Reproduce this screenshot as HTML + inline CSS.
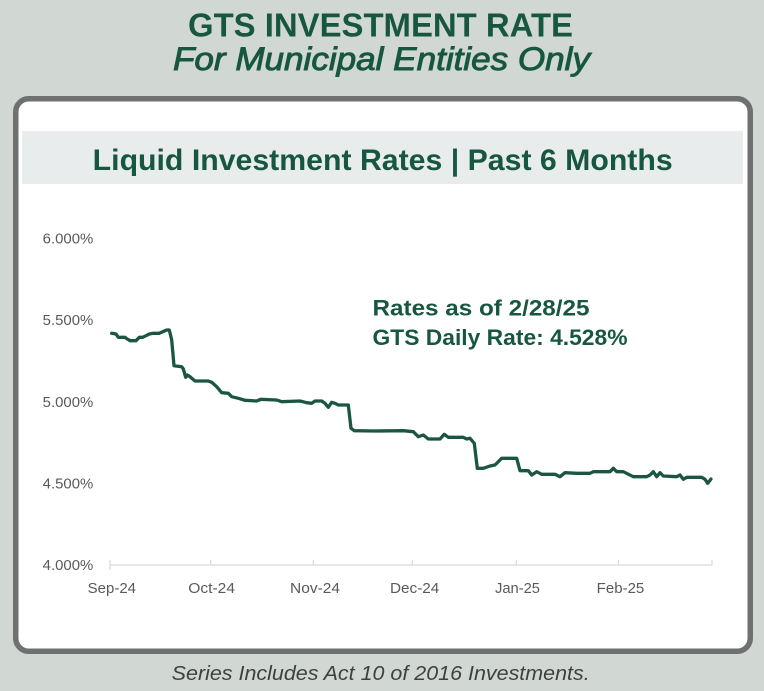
<!DOCTYPE html>
<html>
<head>
<meta charset="utf-8">
<style>
  html, body { margin:0; padding:0; background:#d1d7d3; }
  body { width:764px; height:691px; overflow:hidden; }
  svg { display:block; }
</style>
</head>
<body>
<svg width="764" height="691" viewBox="0 0 764 691" xmlns="http://www.w3.org/2000/svg">
  <rect x="0" y="0" width="764" height="691" fill="#d1d7d3"/>

  <!-- Titles -->
  <text x="188" y="36.7" font-family="Liberation Sans, sans-serif" font-weight="bold" font-size="33" fill="#17573f" textLength="385" lengthAdjust="spacingAndGlyphs">GTS INVESTMENT RATE</text>
  <text x="173" y="70" font-family="Liberation Sans, sans-serif" font-style="italic" font-size="32" fill="#17573f" stroke="#17573f" stroke-width="0.9" textLength="417" lengthAdjust="spacingAndGlyphs">For Municipal Entities Only</text>

  <!-- Box -->
  <rect x="15.75" y="98.75" width="734.5" height="552.5" rx="13" ry="13" fill="#ffffff" stroke="#6f7170" stroke-width="5.5"/>

  <!-- Header band -->
  <rect x="22" y="131" width="721" height="53" fill="#e9eced"/>
  <text x="92.7" y="170" font-family="Liberation Sans, sans-serif" font-weight="bold" font-size="30" fill="#17573f" textLength="580" lengthAdjust="spacingAndGlyphs">Liquid Investment Rates | Past 6 Months</text>

  <!-- Y axis labels -->
  <g font-family="Liberation Sans, sans-serif" font-size="14.5" fill="#595959">
    <text x="42.7" y="243.5" textLength="50.6" lengthAdjust="spacingAndGlyphs">6.000%</text>
    <text x="42.7" y="325.2" textLength="50.6" lengthAdjust="spacingAndGlyphs">5.500%</text>
    <text x="42.7" y="406.9" textLength="50.6" lengthAdjust="spacingAndGlyphs">5.000%</text>
    <text x="42.7" y="488.5" textLength="50.6" lengthAdjust="spacingAndGlyphs">4.500%</text>
    <text x="42.7" y="570.2" textLength="50.6" lengthAdjust="spacingAndGlyphs">4.000%</text>
  </g>

  <!-- X axis -->
  <line x1="110" y1="565" x2="712" y2="565" stroke="#d9d9d9" stroke-width="1.2"/>
  <g stroke="#d9d9d9" stroke-width="1.2">
    <line x1="110" y1="560" x2="110" y2="570"/>
    <line x1="210.7" y1="560" x2="210.7" y2="565"/>
    <line x1="313.3" y1="560" x2="313.3" y2="565"/>
    <line x1="412.3" y1="560" x2="412.3" y2="565"/>
    <line x1="516.3" y1="560" x2="516.3" y2="565"/>
    <line x1="618.3" y1="560" x2="618.3" y2="565"/>
    <line x1="712" y1="560" x2="712" y2="565"/>
  </g>
  <g font-family="Liberation Sans, sans-serif" font-size="14.5" fill="#595959">
    <text x="87.7" y="593" textLength="48.3" lengthAdjust="spacingAndGlyphs">Sep-24</text>
    <text x="188.3" y="593" textLength="46.7" lengthAdjust="spacingAndGlyphs">Oct-24</text>
    <text x="290" y="593" textLength="50" lengthAdjust="spacingAndGlyphs">Nov-24</text>
    <text x="390" y="593" textLength="49.3" lengthAdjust="spacingAndGlyphs">Dec-24</text>
    <text x="495" y="593" textLength="45" lengthAdjust="spacingAndGlyphs">Jan-25</text>
    <text x="596.7" y="593" textLength="47.6" lengthAdjust="spacingAndGlyphs">Feb-25</text>
  </g>

  <!-- Series -->
  <polyline fill="none" stroke="#1b5641" stroke-width="3.3" stroke-linejoin="round" stroke-linecap="round"
    points="111.7,333.3 116,334 118.3,337.3 125,337.3 127.3,339 130,340.7 136,340.7 139.3,337.3 142.7,337.3 146,335.7 149.3,334 153.3,333.3 159.3,333.3 162.7,331.7 166.7,330 169.3,330 171.7,340 174,365.7 181.7,366.7 183.3,369 185.7,377.3 187.3,375 190,376.7 195,381 208.3,381 211.7,382.3 216.7,386.7 221.7,392.7 228.3,393.3 231.7,396.7 238.3,398.3 245,400.3 256.7,401 260.7,399.3 276.7,400 281.7,401.7 300,401 306.7,402.7 311.7,403.3 315,401 321.7,401 325,403.3 328.3,407.3 331.7,402.3 335,403.3 338.3,405 348.3,405 351,428.3 354.3,430.7 373.3,431 403.3,430.7 413.3,431.7 418.3,436.7 423.3,435 428.3,439 440,439 444.3,434.3 448.3,437.3 463.3,437.3 466.7,439 470,438.3 474.3,443.3 477.3,468.3 483.3,468.3 490,466 495,465 501.7,458.3 516.7,458.3 520,470.7 528.3,470.7 531.7,475 536.7,471.7 541.7,474.3 555,474.3 560,476.7 565,472.7 576.7,473.3 590,473.3 593.3,471.7 610,471.7 613.3,468.3 616.7,471.7 623.3,471.7 633.3,476.7 646.7,476.7 650,475 653.3,471.7 656.7,476.7 660,472.7 663.3,476 676.7,476.7 680,475 683.3,479.3 686.7,477.3 701.7,477.3 705,479.3 707.7,483.3 711,479"/>

  <!-- Annotation -->
  <g font-family="Liberation Sans, sans-serif" font-weight="bold" font-size="22" fill="#17573f">
    <text x="372.5" y="315.5" textLength="217" lengthAdjust="spacingAndGlyphs">Rates as of 2/28/25</text>
    <text x="372.5" y="345" textLength="255" lengthAdjust="spacingAndGlyphs">GTS Daily Rate: 4.528%</text>
  </g>

  <!-- Footer -->
  <text x="171.7" y="680" font-family="Liberation Sans, sans-serif" font-style="italic" font-size="20" fill="#404040" textLength="418" lengthAdjust="spacingAndGlyphs">Series Includes Act 10 of 2016 Investments.</text>
</svg>
</body>
</html>
